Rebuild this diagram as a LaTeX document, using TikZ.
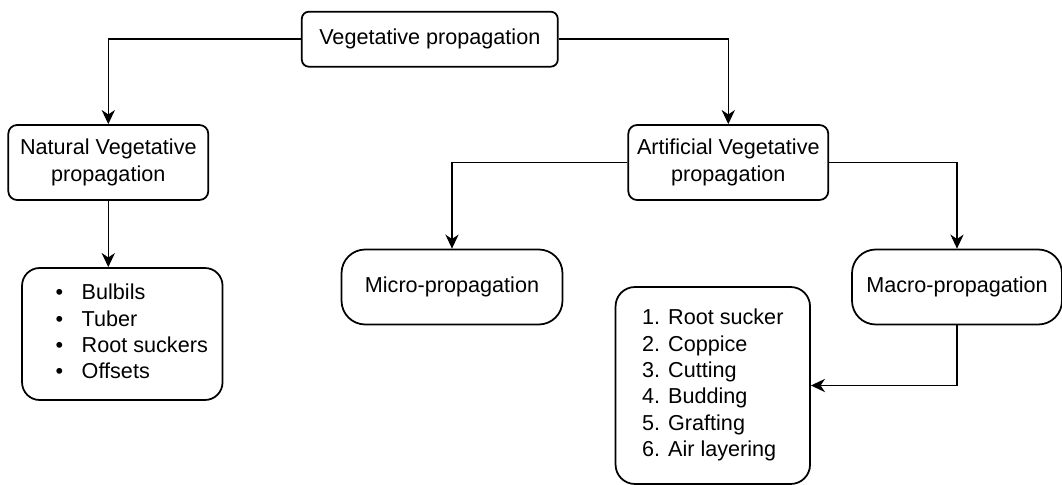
\documentclass[tikz,border=0pt]{standalone}
\usepackage{fontspec}
\setmainfont{Liberation Sans}
\usetikzlibrary{arrows.meta}
\usetikzlibrary{positioning}

\begin{document}
\begin{tikzpicture}[
                x = 0.02cm, y = 0.02cm, % one unit per pixel
                > = {Stealth[length=8pt, width=7.5pt, inset=2.5pt]}, % arrow head style
                line width = 0.9pt, % line style
                font = \fontsize{12.3}{15}\selectfont
        ]

        \tikzstyle{block}=[
            draw = black,
            line width = 1pt,
            fill = white,
            align = center,
            inner sep = 0pt
        ]

        \useasboundingbox (0,0) rectangle (1062,484);

        \node[block, rounded corners=4pt, minimum width=5.12cm, minimum height=1.1cm] (VEG) at (429.8,444.8) {Vegetative propagation};
        \node[block, rounded corners=5pt, minimum width=4cm, minimum height=1.5cm] (NAT) at (108.3,321.5) {Natural Vegetative\\propagation};
        \node[block, rounded corners=5pt, minimum width=4cm, minimum height=1.5cm] (ART) at (728.3,321.5) {Artificial Vegetative\\propagation};
        \node[block, rounded corners=10pt, minimum width=4.01cm, minimum height=2.64cm] (NATLIST) at (122.3,150) {\hspace*{0.38cm}\begin{tabular}{@{}l@{}}
            \makebox[0.52cm][l]{\textbullet}Bulbils\\
            \makebox[0.52cm][l]{\textbullet}Tuber\\
            \makebox[0.52cm][l]{\textbullet}Root suckers\\
            \makebox[0.52cm][l]{\textbullet}Offsets
        \end{tabular}};
        \node[block, rounded corners=13.5pt, minimum width=4.42cm, minimum height=1.5cm] (MICRO) at (452,197) {Micro-propagation};
        \node[block, rounded corners=13.5pt, minimum width=4.2cm, minimum height=1.5cm] (MACRO) at (957,197) {Macro-propagation};
        \node[block, rounded corners=11pt, minimum width=3.89cm, minimum height=3.94cm] (MACROLIST) at (712.8,98.5) {\begin{tabular}{@{}l@{}}
            1. Root sucker\\
            2. Coppice\\
            3. Cutting\\
            4. Budding\\
            5. Grafting\\
            6. Air layering
        \end{tabular}};

        \draw[->] (VEG.west) -| (NAT.north);
        \draw[->] (VEG.east) -| (ART.north);
        \draw[->] (NAT.south) -- (NAT.south |- NATLIST.north);
        \draw[->] (ART.west) -| (MICRO.north);
        \draw[->] (ART.east) -| (MACRO.north);
        \draw[->] (MACRO.south) |- (MACROLIST.east);

\end{tikzpicture}
\end{document}
